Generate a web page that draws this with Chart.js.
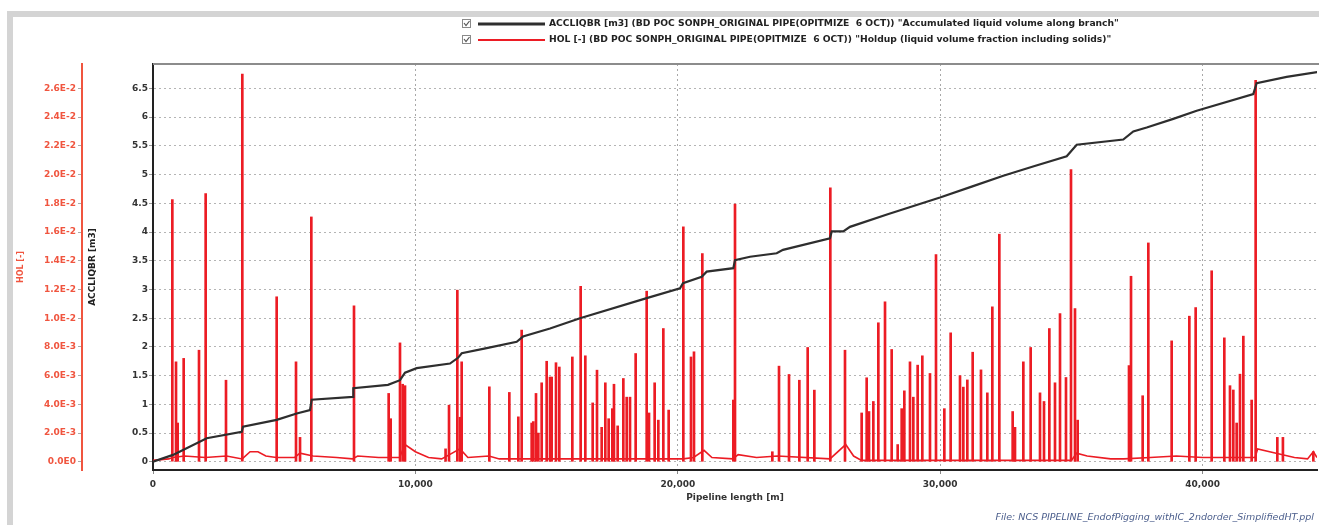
<!DOCTYPE html>
<html>
<head>
<meta charset="utf-8">
<script src="https://cdn.jsdelivr.net/npm/chart.js@4/dist/chart.umd.min.js"></script>
<style>
  html, body { margin: 0; padding: 0; background: #ffffff; }
  canvas { display: block; }
</style>
</head>
<body>
<canvas id="profile" width="1319" height="525"></canvas>
<script>
// Axis tick values
const distanceTicks = [0, 10000, 20000, 30000, 40000];
const volumeTicks = [0, 0.5, 1, 1.5, 2, 2.5, 3, 3.5, 4, 4.5, 5, 5.5, 6, 6.5];
const holdupTicks = [0, 0.002, 0.004, 0.006, 0.008, 0.010, 0.012, 0.014, 0.016, 0.018, 0.020, 0.022, 0.024, 0.026];

// ACCLIQBR: accumulated liquid volume along branch [m3] vs pipeline length [m]
const accDist = [0, 762, 2047, 3380, 3430, 4714, 5476, 5983, 6048, 7622, 7634, 8956, 9413, 9604, 10050,
  11319, 11624, 11765, 12717, 13861, 14101, 15130, 16273, 18815, 20084, 20198, 20911, 21101, 22116, 22180,
  22751, 23769, 24009, 25800, 25865, 26307, 26562, 28000, 29993, 31200, 32405, 33600, 34821, 35202, 36978,
  37359, 37870, 38883, 39775, 41932, 42061, 43204, 44437];
const accVol = [0, 0.12, 0.41, 0.52, 0.61, 0.73, 0.84, 0.90, 1.08, 1.13, 1.28, 1.34, 1.42, 1.55, 1.63,
  1.71, 1.81, 1.89, 1.98, 2.09, 2.18, 2.32, 2.50, 2.85, 3.02, 3.11, 3.22, 3.31, 3.37, 3.51,
  3.57, 3.63, 3.69, 3.89, 4.01, 4.01, 4.09, 4.31, 4.60, 4.79, 4.98, 5.15, 5.32, 5.52, 5.61,
  5.75, 5.82, 5.97, 6.11, 6.40, 6.59, 6.70, 6.79];

// HOL: holdup between slugs (background level)
const holBaseDist = [0, 600, 750, 1200, 2000, 2800, 3400, 3700, 4000, 4300, 4700, 5400, 5600, 6100, 7000,
  7600, 7800, 8600, 9400, 9600, 10000, 10500, 11000, 11300, 11700, 12000, 12800, 13200, 14000, 19700,
  20200, 20600, 21000, 21300, 22100, 22300, 23000, 23800, 25800, 26400, 26700, 27000, 35000, 35200, 35600,
  36500, 37000, 38000, 39000, 40000, 42000, 42100, 42800, 43500, 44000, 44220, 44360];
const holBaseVal = [0.0001, 0.0002, 0.0003, 0.0004, 0.0003, 0.0004, 0.0002, 0.0007, 0.0007, 0.0004, 0.0003, 0.0003, 0.0006, 0.0004, 0.0003,
  0.0002, 0.0004, 0.0003, 0.0003, 0.0012, 0.0007, 0.0003, 0.0002, 0.0005, 0.0009, 0.0003, 0.0004, 0.0002, 0.0002, 0.0002,
  0.0002, 0.0003, 0.0008, 0.0003, 0.0002, 0.0005, 0.0003, 0.0004, 0.0002, 0.0012, 0.0004, 0.0001, 0.0001, 0.0006, 0.0004,
  0.0002, 0.0002, 0.0003, 0.0004, 0.0003, 0.0003, 0.0009, 0.0006, 0.0003, 0.0002, 0.0007, 0.0003];

// HOL: slug peaks along the line
const holPeakDist = [737, 877, 940, 1169, 1753, 2007, 2782, 3404, 4713, 5450, 5603, 6034, 7660, 8981, 9057,
  9413, 9515, 9604, 11150, 11281, 11598, 11700, 11763, 12818, 13580, 13923, 14050, 14431, 14494, 14596,
  14685, 14812, 15003, 15130, 15194, 15358, 15485, 15981, 16298, 16476, 16756, 16921, 17099, 17238, 17365,
  17505, 17568, 17708, 17925, 18052, 18179, 18394, 18814, 18903, 19118, 19258, 19449, 19652, 20211, 20503,
  20617, 20935, 22117, 22180, 23603, 23857, 24238, 24632, 24950, 25204, 25813, 26372, 27007, 27198, 27287,
  27452, 27643, 27897, 28151, 28380, 28532, 28633, 28849, 28976, 29141, 29319, 29611, 29840, 30158, 30399,
  30755, 30882, 31034, 31238, 31555, 31796, 31987, 32254, 32762, 32851, 33169, 33448, 33804, 33956, 34160,
  34375, 34566, 34794, 34985, 35137, 35239, 37195, 37272, 37716, 37932, 38821, 39495, 39736, 40346, 40828,
  41044, 41171, 41298, 41425, 41553, 41870, 42022, 42848, 43061, 44220];
const holPeakVal = [0.01826, 0.00696, 0.0027, 0.0072, 0.00777, 0.01868, 0.00568, 0.0270, 0.01149, 0.00696, 0.0017, 0.01705, 0.01086, 0.00476, 0.0030,
  0.00828, 0.0054, 0.0053, 0.0009, 0.00394, 0.01195, 0.0031, 0.00696, 0.00522, 0.00483, 0.00313, 0.00917, 0.0027, 0.0028, 0.00476,
  0.0020, 0.0055, 0.0070, 0.0059, 0.0059, 0.0069, 0.0066, 0.0073, 0.01222, 0.00738, 0.0041, 0.00638, 0.0024, 0.0055, 0.0030,
  0.0037, 0.0054, 0.0025, 0.0058, 0.0045, 0.0045, 0.00754, 0.01188, 0.0034, 0.0055, 0.0029, 0.00928, 0.0036, 0.01636, 0.0073,
  0.00766, 0.0145, 0.0043, 0.01794, 0.0007, 0.00666, 0.00608, 0.00568, 0.00796, 0.00499, 0.01907, 0.00777, 0.0034, 0.00585, 0.0035,
  0.0042, 0.00968, 0.01114, 0.00782, 0.0012, 0.0037, 0.00494, 0.00696, 0.0045, 0.00673, 0.00738, 0.00615, 0.01443, 0.0037, 0.00898,
  0.0060, 0.0052, 0.0057, 0.00763, 0.0064, 0.0048, 0.01079, 0.01585, 0.0035, 0.0024, 0.00696, 0.00796, 0.0048, 0.0042, 0.00928,
  0.0055, 0.01032, 0.00587, 0.02035, 0.01067, 0.0029, 0.0067, 0.01292, 0.0046, 0.01524, 0.00842, 0.01014, 0.01074, 0.0133, 0.00863,
  0.0053, 0.0050, 0.0027, 0.0061, 0.00875, 0.0043, 0.02657, 0.0017, 0.0017, 0.0007];

const seriesLabels = [
  'ACCLIQBR [m3] (BD POC SONPH_ORIGINAL PIPE(OPITMIZE  6 OCT)) "Accumulated liquid volume along branch"',
  'HOL [-] (BD POC SONPH_ORIGINAL PIPE(OPITMIZE  6 OCT)) "Holdup (liquid volume fraction including solids)"'
];
const fileNote = 'File: NCS PIPELINE_EndofPigging_withIC_2ndorder_SimplifiedHT.ppl';

const BLACK = '#2e2e2e';
const RED = '#ec1c24';
const AXIS_RED = '#f0553f';
const FONT = '"DejaVu Sans", sans-serif';

const pairs = (xs, ys) => xs.map((x, i) => ({ x: x, y: ys[i] }));

// Grey window frame, plot top edge, series key and file note
const decorations = {
  id: 'decorations',
  beforeDraw(chart) {
    const ctx = chart.ctx;
    ctx.save();
    ctx.fillStyle = '#ffffff';
    ctx.fillRect(0, 0, chart.width, chart.height);
    ctx.fillStyle = '#d4d4d4';
    ctx.fillRect(7, 11, chart.width - 7, 6);
    ctx.fillRect(7, 11, 6, chart.height - 11);
    ctx.restore();
  },
  afterDraw(chart) {
    const ctx = chart.ctx;
    const area = chart.chartArea;
    ctx.save();
    ctx.strokeStyle = '#8c8c8c';
    ctx.lineWidth = 2;
    ctx.beginPath();
    ctx.moveTo(area.left, area.top);
    ctx.lineTo(chart.width, area.top);
    ctx.stroke();

    const rows = [
      { y: 24, color: BLACK, width: 3, text: seriesLabels[0] },
      { y: 40, color: RED, width: 2, text: seriesLabels[1] }
    ];
    rows.forEach(r => {
      // checkbox
      ctx.strokeStyle = '#8a8a8a';
      ctx.lineWidth = 1;
      ctx.strokeRect(462.5, r.y - 4.5, 8, 8);
      ctx.strokeStyle = '#555';
      ctx.lineWidth = 1.2;
      ctx.beginPath();
      ctx.moveTo(464, r.y - 1);
      ctx.lineTo(466, r.y + 1.5);
      ctx.lineTo(469.5, r.y - 3);
      ctx.stroke();
      // line sample
      ctx.strokeStyle = r.color;
      ctx.lineWidth = r.width;
      ctx.beginPath();
      ctx.moveTo(478, r.y);
      ctx.lineTo(545, r.y);
      ctx.stroke();
      // text
      ctx.fillStyle = '#222';
      ctx.font = 'bold 9.2px ' + FONT;
      ctx.textBaseline = 'middle';
      ctx.textAlign = 'left';
      ctx.fillText(r.text, 549, r.y);
    });

    ctx.fillStyle = '#4b5e8c';
    ctx.font = 'italic 9.5px ' + FONT;
    ctx.textAlign = 'right';
    ctx.textBaseline = 'middle';
    ctx.fillText(fileNote, 1314, 518);
    ctx.restore();
  }
};

new Chart(document.getElementById('profile'), {
  type: 'line',
  data: {
    datasets: [
      {
        type: 'line',
        label: seriesLabels[0],
        yAxisID: 'yAcc',
        data: pairs(accDist, accVol),
        borderColor: BLACK,
        borderWidth: 2.2,
        pointRadius: 0,
        tension: 0,
        order: 0
      },
      {
        type: 'line',
        label: seriesLabels[1],
        yAxisID: 'yHol',
        data: pairs(holBaseDist, holBaseVal),
        borderColor: RED,
        borderWidth: 1.6,
        pointRadius: 0,
        tension: 0,
        order: 1
      },
      {
        type: 'bar',
        label: 'HOL peaks',
        yAxisID: 'yHol',
        data: pairs(holPeakDist, holPeakVal),
        backgroundColor: RED,
        borderWidth: 0,
        barThickness: 2,
        order: 2
      }
    ]
  },
  options: {
    responsive: false,
    devicePixelRatio: 1,
    animation: false,
    layout: { padding: { left: 10, top: 64, right: 2, bottom: 0 } },
    plugins: { legend: { display: false }, tooltip: { enabled: false } },
    scales: {
      x: {
        type: 'linear',
        position: 'bottom',
        min: 0,
        max: 44360,
        offset: false,
        afterBuildTicks: s => { s.ticks = distanceTicks.map(v => ({ value: v })); },
        afterFit: s => { s.height = 55; },
        ticks: {
          autoSkip: false, maxRotation: 0, padding: 5,
          color: '#333', font: { family: FONT, size: 9, weight: 'bold' },
          callback: v => v.toLocaleString('en-US')
        },
        grid: { color: '#a8a8a8', lineWidth: 1, tickLength: 4, tickColor: '#888', offset: false },
        border: { color: '#222', width: 2, dash: [2, 3] },
        title: {
          display: true, text: 'Pipeline length [m]', color: '#333',
          font: { family: FONT, size: 9, weight: 'bold' }, padding: { top: 0, bottom: 22 }
        }
      },
      yAcc: {
        type: 'linear',
        position: 'left',
        weight: 0,
        min: -0.143,
        max: 6.925,
        afterBuildTicks: s => { s.ticks = volumeTicks.map(v => ({ value: v })); },
        afterFit: s => { s.width = 71; },
        ticks: {
          padding: 1, color: '#333', font: { family: FONT, size: 9, weight: 'bold' },
          callback: v => String(v)
        },
        grid: { color: '#b4b4b4', lineWidth: 1, tickLength: 4, tickColor: '#999' },
        border: { color: '#222', width: 2, dash: [2, 3] },
        title: {
          display: true, text: 'ACCLIQBR [m3]', color: '#222',
          font: { family: FONT, size: 9, weight: 'bold' }, padding: { top: 5, bottom: 0 }
        }
      },
      yHol: {
        type: 'linear',
        position: 'left',
        weight: 1,
        min: -0.000572,
        max: 0.0277,
        afterBuildTicks: s => { s.ticks = holdupTicks.map(v => ({ value: v })); },
        afterFit: s => { s.width = 72; },
        ticks: {
          padding: 2, color: AXIS_RED, font: { family: FONT, size: 9, weight: 'bold' },
          callback: v => v.toExponential(1).toUpperCase().replace('+', '')
        },
        grid: { drawOnChartArea: false, tickLength: 4, tickColor: '#aaa' },
        border: { color: AXIS_RED, width: 2 },
        title: {
          display: true, text: 'HOL [-]', color: AXIS_RED,
          font: { family: FONT, size: 8, weight: 'bold' }, padding: { top: 6, bottom: 0 }
        }
      }
    }
  },
  plugins: [decorations]
});
</script>
</body>
</html>
